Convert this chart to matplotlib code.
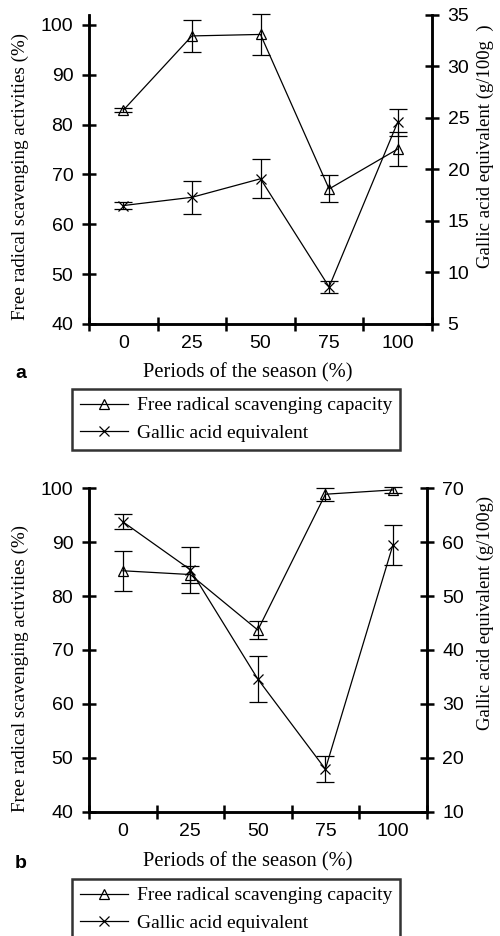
import numpy as np
import matplotlib
matplotlib.use("Agg")
import matplotlib.pyplot as plt
from matplotlib.lines import Line2D

# Categories (periods of the season, %)
periods = ["0", "25", "50", "75", "100"]

# Panel a
frsc_a = [82.9, 97.8, 98.1, 67.1, 75.1]
frsc_a_err = [0.4, 3.2, 4.1, 2.7, 3.4]
gae_a = [16.5, 17.3, 19.1, 8.6, 24.6]
gae_a_err = [0.3, 1.6, 1.9, 0.6, 1.3]

# Panel b
frsc_b = [84.7, 84.0, 73.7, 98.9, 99.7]
frsc_b_err = [3.7, 1.6, 1.7, 1.2, 0.5]
gae_b = [63.8, 54.9, 34.6, 17.9, 59.5]
gae_b_err = [1.4, 4.3, 4.3, 2.4, 3.7]

SERIF = "Liberation Serif"
SANS = "Liberation Sans"
W, H = 500, 936


def px(x0, y0, x1, y1):
    # pixel box (top-left origin) -> figure fraction rect
    return [x0 / W, 1 - y1 / H, (x1 - x0) / W, (y1 - y0) / H]


def draw_panel(fig, rect, frsc, frsc_err, gae, gae_err, ylim_l, ylim_r,
               yticks_l, yticks_r, rlabel, rlabel_y, llabel_y, letter,
               letter_y, xlabel_y, legend_y):
    ax = fig.add_axes(rect)
    ax2 = ax.twinx()
    x = np.arange(len(periods))

    ekw = dict(color="black", lw=0.9, capsize=6.5, capthick=0.9,
               elinewidth=0.9, ms=7.5, mfc="none", mec="black", mew=0.9)
    for a, y, e, m in ((ax, frsc, frsc_err, "^"), (ax2, gae, gae_err, "x")):
        cont = a.errorbar(x, y, yerr=e, marker=m, **ekw)
        for art in cont.lines[1] + cont.lines[2]:
            art.set_clip_on(False)

    ax.set_xlim(-0.5, len(periods) - 0.5)
    ax.set_ylim(*ylim_l)
    ax2.set_ylim(*ylim_r)
    ax.set_yticks(yticks_l)
    ax2.set_yticks(yticks_r)

    ax.set_xticks(np.arange(len(periods) + 1) - 0.5)
    ax.set_xticklabels([])
    ax.set_xticks(x, minor=True)
    ax.set_xticklabels(periods, minor=True)

    for a in (ax, ax2):
        for s in a.spines.values():
            s.set_linewidth(1.8)
        a.spines["top"].set_visible(False)
        a.tick_params(which="major", direction="inout", length=10.5,
                      width=1.8, labelsize=14, pad=6)
        for lab in a.get_yticklabels() + a.get_xticklabels(minor=True):
            lab.set_family(SANS)
    ax.tick_params(axis="x", which="minor", length=0, pad=8, labelsize=14)

    fig.text(20 / W, 1 - llabel_y / H,
             "Free radical scavenging activities (%)", family=SERIF,
             fontsize=13.7, rotation=90, ha="center", va="center")
    fig.text(485 / W, 1 - rlabel_y / H, rlabel, family=SERIF,
             fontsize=13.5, rotation=90, ha="center", va="center")

    fig.text(248 / W, 1 - xlabel_y / H, "Periods of the season (%)",
             family=SERIF, fontsize=14.8, ha="center", va="center")
    fig.text(15 / W, 1 - letter_y / H, letter, family=SANS,
             fontweight="bold", fontsize=14, ha="left", va="center")

    handles = [
        Line2D([], [], color="black", lw=0.9, marker="^", ms=7.5,
               mfc="none", mec="black", mew=0.9),
        Line2D([], [], color="black", lw=0.9, marker="x", ms=7.5,
               mec="black", mew=0.9),
    ]
    leg = fig.legend(handles, ["Free radical scavenging capacity",
                               "Gallic acid equivalent"],
                     loc="upper left",
                     bbox_to_anchor=(72 / W, 1 - legend_y / H),
                     frameon=True, fancybox=False, edgecolor="black",
                     prop={"family": SERIF, "size": 14},
                     handlelength=2.5, handletextpad=0.45, borderpad=0.4,
                     labelspacing=0.5, borderaxespad=0)
    leg.get_frame().set_linewidth(1.8)
    return ax, ax2


fig = plt.figure(figsize=(W / 100, H / 100), dpi=100)

draw_panel(fig, px(89, 15, 432, 324), frsc_a, frsc_a_err, gae_a, gae_a_err,
           (40, 102), (5, 35), np.arange(40, 101, 10), np.arange(5, 36, 5),
           "Gallic acid equivalent (g/100g  )", 146, 176, "a", 373, 373, 389)

draw_panel(fig, px(89, 488.3, 426.7, 811.7), frsc_b, frsc_b_err, gae_b,
           gae_b_err, (40, 100), (10, 70), np.arange(40, 101, 10),
           np.arange(10, 71, 10), "Gallic acid equivalent (g/100g)", 613,
           668, "b", 863, 862, 879)

fig.savefig("out.png", dpi=100)
